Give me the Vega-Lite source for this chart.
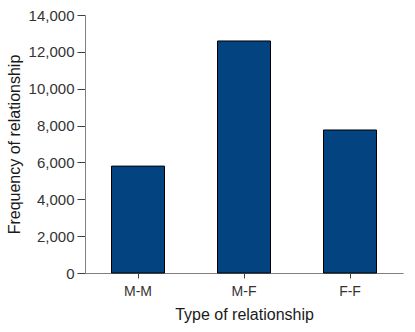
{
  "$schema": "https://vega.github.io/schema/vega-lite/v6.json",
  "width": 318,
  "height": 258,
  "autosize": {"type": "none"},
  "padding": {"left": 85, "top": 15, "right": 12, "bottom": 59},
  "background": "white",
  "config": {
    "view": {"stroke": null},
    "font": "Liberation Sans",
    "axis": {
      "domainColor": "#808080",
      "tickColor": "#404040",
      "labelColor": "#333333",
      "titleColor": "#1a1a1a",
      "labelFont": "Liberation Sans",
      "titleFont": "Liberation Sans",
      "labelFontSize": 14,
      "titleFontSize": 16,
      "titleFontWeight": "normal",
      "grid": false
    }
  },
  "data": {
    "values": [
      {"type": "M-M", "freq": 5800},
      {"type": "M-F", "freq": 12590},
      {"type": "F-F", "freq": 7760}
    ]
  },
  "mark": {"type": "bar", "color": "#03437f", "stroke": "#000000", "strokeWidth": 1},
  "encoding": {
    "x": {
      "field": "type",
      "type": "nominal",
      "sort": ["M-M", "M-F", "F-F"],
      "scale": {"paddingInner": 0.5, "paddingOuter": 0.25},
      "axis": {"title": "Type of relationship", "labelAngle": 0, "tickSize": 5, "labelPadding": 6, "titlePadding": 8}
    },
    "y": {
      "field": "freq",
      "type": "quantitative",
      "scale": {"domain": [0, 14000], "nice": false},
      "axis": {"title": "Frequency of relationship", "values": [0, 2000, 4000, 6000, 8000, 10000, 12000, 14000], "format": ",d", "labelFontSize": 15, "tickSize": 8, "labelPadding": 3, "titlePadding": 6}
    }
  }
}
